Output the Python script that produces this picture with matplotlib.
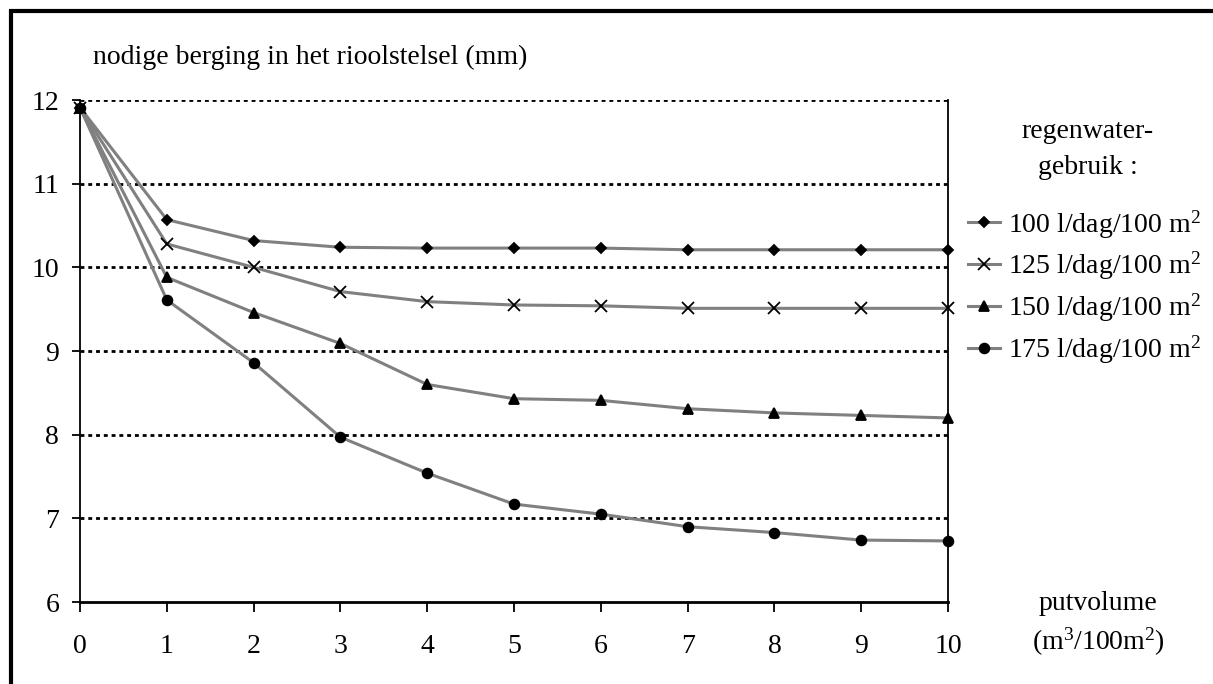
import matplotlib
matplotlib.use('Agg')
import matplotlib.pyplot as plt
from matplotlib.patches import Rectangle

plt.rcParams['font.family'] = ['Liberation Serif', 'DejaVu Serif']
plt.rcParams['font.size'] = 20
plt.rcParams['mathtext.fontset'] = 'custom'
plt.rcParams['mathtext.rm'] = 'Liberation Serif'
plt.rcParams['mathtext.it'] = 'Liberation Serif:italic'

# putvolume (m3/100m2)
putvolume = [0, 1, 2, 3, 4, 5, 6, 7, 8, 9, 10]

# nodige berging (mm) per regenwatergebruik
berging_100 = [11.91, 10.57, 10.32, 10.24, 10.23, 10.23, 10.23, 10.21, 10.21, 10.21, 10.21]
berging_125 = [11.91, 10.28, 10.00, 9.71, 9.59, 9.55, 9.54, 9.51, 9.51, 9.51, 9.51]
berging_150 = [11.91, 9.88, 9.46, 9.09, 8.60, 8.43, 8.41, 8.31, 8.26, 8.23, 8.20]
berging_175 = [11.91, 9.61, 8.86, 7.97, 7.54, 7.17, 7.05, 6.90, 6.83, 6.74, 6.73]

labels = ['100 l/dag/100 m$^\\mathrm{2}$', '125 l/dag/100 m$^\\mathrm{2}$',
          '150 l/dag/100 m$^\\mathrm{2}$', '175 l/dag/100 m$^\\mathrm{2}$']
markers = ['D', 'x', '^', 'o']
msizes = [5.5, 8, 7, 7]

fig = plt.figure(figsize=(12.13, 6.84), dpi=100)
ax = fig.add_axes([80 / 1213, 1 - 602 / 684, (948 - 80) / 1213, (602 - 100) / 684])

series = [berging_100, berging_125, berging_150, berging_175]
for vals, lab, m, ms in zip(series, labels, markers, msizes):
    ax.plot(putvolume, vals, color='#808080', lw=2.2, marker=m, ms=ms,
            mfc='black', mec='black', mew=1.3, label=lab, clip_on=False, zorder=3)

ax.set_xlim(0, 10)
ax.set_ylim(6, 12)
ax.set_xticks(range(0, 11))
ax.set_yticks(range(6, 13))

# gestippelde hulplijnen
for y in range(7, 13):
    ax.axhline(y, color='black', lw=2, ls=(0, (1.4, 1.4)), zorder=1)

ax.spines['top'].set_visible(False)
ax.spines['left'].set_linewidth(1.3)
ax.spines['right'].set_linewidth(1.3)
ax.spines['bottom'].set_linewidth(2)
ax.tick_params(axis='x', direction='out', length=7, width=1.3, pad=16)
ax.tick_params(axis='y', direction='out', length=6, width=1.3, pad=9)

fig.text(93 / 1213, 1 - 64 / 684, 'nodige berging in het rioolstelsel (mm)',
         ha='left', va='baseline')
fig.text(1088 / 1213, 1 - 132 / 684, 'regenwater-', ha='center', va='center')
fig.text(1088 / 1213, 1 - 167 / 684, 'gebruik :', ha='center', va='center')
fig.text(1098 / 1213, 1 - 603 / 684, 'putvolume', ha='center', va='center')
fig.text(1098 / 1213, 1 - 642 / 684, '(m$^\\mathrm{3}$/100m$^\\mathrm{2}$)',
         ha='center', va='center')

ax.legend(loc='upper left', bbox_to_anchor=(968 / 1213, 1 - 208 / 684),
          bbox_transform=fig.transFigure, frameon=False, borderpad=0,
          borderaxespad=0, handlelength=1.15, handletextpad=0.3,
          labelspacing=0.34)

# kader rond de figuur
fig.add_artist(Rectangle((10.5 / 1213, -0.5), 2, 1.5 - 10.5 / 684,
                         transform=fig.transFigure, fill=False,
                         lw=3, ec='black', clip_on=False))

fig.savefig('out.png', dpi=100)
